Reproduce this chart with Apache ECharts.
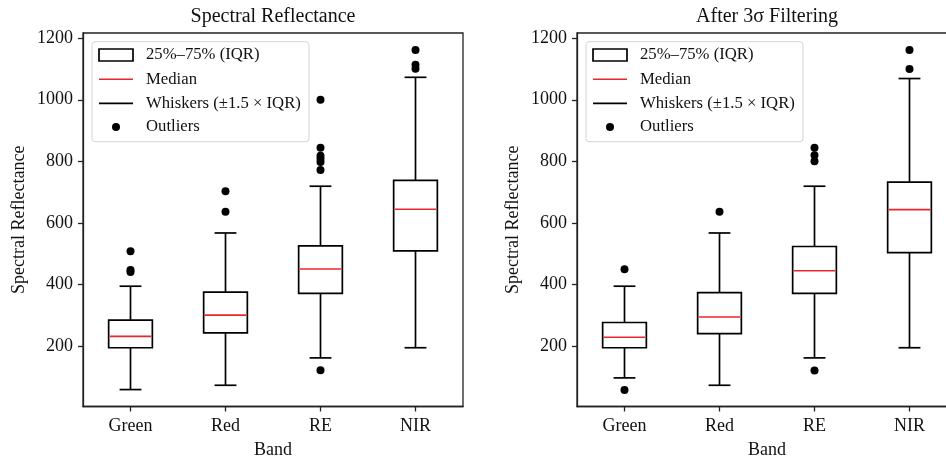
<!DOCTYPE html>
<html>
<head>
<meta charset="utf-8">
<script src="https://cdn.jsdelivr.net/npm/echarts@6/dist/echarts.min.js"></script>
<style>
  html, body { margin: 0; padding: 0; background: #fff; }
  #chart { width: 946px; height: 461px; }
</style>
</head>
<body>
<div id="chart"></div>
<script>
// Band names and y-axis tick values
const bands = ['Green', 'Red', 'RE', 'NIR'];
const yTicks = [200, 400, 600, 800, 1000, 1200];

// Raw reflectance: box statistics per band
const rawWhiskerLow = [58, 72, 161, 194];
const rawQ1 = [194, 242, 371, 509];
const rawMedian = [231, 300, 450, 644];
const rawQ3 = [284, 375, 525, 738];
const rawWhiskerHigh = [394, 567, 719, 1073];
const rawOutliers = [
  [508, 447, 440],
  [703, 636],
  [1000, 844, 818, 808, 798, 772, 121],
  [1162, 1114, 1101]
];

// After 3-sigma filtering: box statistics per band
const filtWhiskerLow = [96, 72, 161, 194];
const filtQ1 = [194, 240, 371, 503];
const filtMedian = [228, 294, 444, 643];
const filtQ3 = [276, 373, 523, 732];
const filtWhiskerHigh = [394, 567, 719, 1069];
const filtOutliers = [
  [449, 57],
  [636],
  [844, 820, 800, 120],
  [1162, 1100]
];

const SERIF = '"Liberation Serif", "DejaVu Serif", serif';
const INK = '#111';
const BOX_FRAC = 0.46;   // box width as a share of the category band
const LINE_W = 1.7;

function boxData(q1, q3) { return bands.map((_, i) => [i, q1[i], q3[i]]); }
function medianData(med) { return bands.map((_, i) => [i, med[i]]); }
function whiskerData(lo, q1, q3, hi) { return bands.map((_, i) => [i, lo[i], q1[i], q3[i], hi[i]]); }
function outlierData(out) {
  const pts = [];
  out.forEach((vals, i) => vals.forEach(v => pts.push([i, v])));
  return pts;
}

function renderBox(params, api) {
  const i = api.value(0);
  const lo = api.coord([i, api.value(1)]);
  const hi = api.coord([i, api.value(2)]);
  const w = api.size([1, 0])[0] * BOX_FRAC;
  return {
    type: 'rect',
    shape: { x: lo[0] - w / 2, y: hi[1], width: w, height: lo[1] - hi[1] },
    style: { fill: '#fff', stroke: '#000', lineWidth: LINE_W }
  };
}

function renderMedian(params, api) {
  const i = api.value(0);
  const p = api.coord([i, api.value(1)]);
  const w = api.size([1, 0])[0] * BOX_FRAC;
  return {
    type: 'line',
    shape: { x1: p[0] - w / 2 + 1, y1: p[1], x2: p[0] + w / 2 - 1, y2: p[1] },
    style: { stroke: '#e8262b', lineWidth: 1.6 }
  };
}

function renderWhisker(params, api) {
  const i = api.value(0);
  const lo = api.coord([i, api.value(1)]);
  const q1 = api.coord([i, api.value(2)]);
  const q3 = api.coord([i, api.value(3)]);
  const hi = api.coord([i, api.value(4)]);
  const cap = api.size([1, 0])[0] * BOX_FRAC / 4;
  const st = { stroke: '#000', lineWidth: LINE_W };
  return {
    type: 'group',
    children: [
      { type: 'line', shape: { x1: lo[0], y1: lo[1], x2: q1[0], y2: q1[1] }, style: st },
      { type: 'line', shape: { x1: q3[0], y1: q3[1], x2: hi[0], y2: hi[1] }, style: st },
      { type: 'line', shape: { x1: lo[0] - cap, y1: lo[1], x2: lo[0] + cap, y2: lo[1] }, style: st },
      { type: 'line', shape: { x1: hi[0] - cap, y1: hi[1], x2: hi[0] + cap, y2: hi[1] }, style: st }
    ]
  };
}

const panels = [
  { title: 'Spectral Reflectance', left: 83,
    lo: rawWhiskerLow, q1: rawQ1, med: rawMedian, q3: rawQ3, hi: rawWhiskerHigh, out: rawOutliers },
  { title: 'After 3σ Filtering', left: 577,
    lo: filtWhiskerLow, q1: filtQ1, med: filtMedian, q3: filtQ3, hi: filtWhiskerHigh, out: filtOutliers }
];

const PLOT_W = 380, PLOT_TOP = 33, PLOT_H = 373.5;
const axisLineStyle = { color: '#222', width: 1.3 };

const grids = [], xAxes = [], yAxes = [], titles = [], series = [], graphics = [];

panels.forEach((p, k) => {
  grids.push({
    left: p.left, top: PLOT_TOP, width: PLOT_W, height: PLOT_H,
    outerBoundsMode: 'none', containLabel: false,
    show: true, borderColor: '#222', borderWidth: 1.3, backgroundColor: '#fff'
  });
  titles.push({
    text: p.title,
    left: p.left + PLOT_W / 2, top: 7, textAlign: 'center', padding: 0,
    textStyle: { fontFamily: SERIF, fontSize: 20, fontWeight: 'normal', color: INK }
  });
  xAxes.push({
    type: 'category', gridIndex: k, data: bands, boundaryGap: true,
    axisLine: { show: true, lineStyle: axisLineStyle },
    axisTick: { show: true, alignWithLabel: true, length: 5, lineStyle: axisLineStyle },
    axisLabel: { margin: 11, fontFamily: SERIF, fontSize: 18, color: INK },
    splitLine: { show: false },
    name: 'Band', nameLocation: 'middle', nameGap: 35,
    nameTextStyle: { fontFamily: SERIF, fontSize: 18, color: INK }
  });
  yAxes.push({
    type: 'value', gridIndex: k, min: 3, max: 1217,
    axisLine: { show: true, lineStyle: axisLineStyle },
    axisTick: { show: true, length: 5, customValues: yTicks, lineStyle: axisLineStyle },
    axisLabel: { customValues: yTicks, formatter: v => String(v), margin: 10,
      fontFamily: SERIF, fontSize: 18, color: INK },
    splitLine: { show: false },
    name: 'Spectral Reflectance', nameLocation: 'middle', nameGap: 55,
    nameTextStyle: { fontFamily: SERIF, fontSize: 18, color: INK }
  });
  const axes = { xAxisIndex: k, yAxisIndex: k };
  series.push(Object.assign({
    name: 'Whiskers (±1.5 × IQR)', type: 'custom', renderItem: renderWhisker,
    encode: { x: 0, y: [1, 2, 3, 4] }, data: whiskerData(p.lo, p.q1, p.q3, p.hi), silent: true
  }, axes));
  series.push(Object.assign({
    name: '25%–75% (IQR)', type: 'custom', renderItem: renderBox,
    encode: { x: 0, y: [1, 2] }, data: boxData(p.q1, p.q3), silent: true
  }, axes));
  series.push(Object.assign({
    name: 'Median', type: 'custom', renderItem: renderMedian,
    encode: { x: 0, y: 1 }, data: medianData(p.med), silent: true
  }, axes));
  series.push(Object.assign({
    name: 'Outliers', type: 'scatter', symbol: 'circle', symbolSize: 8,
    itemStyle: { color: '#000', opacity: 1 }, data: outlierData(p.out), silent: true
  }, axes));

  // Legend box in the upper-left corner of each panel
  const lx = p.left + 9, ly = 41.7;
  const ix = lx + 7, tx = lx + 54;
  const rows = [55, 79.3, 103.3, 127];
  const label = (t, y) => ({
    type: 'text', x: tx, y: y, z: 101,
    style: { text: t, fontFamily: SERIF, fontSize: 16.7, fill: INK, verticalAlign: 'middle', textAlign: 'left' }
  });
  graphics.push(
    { type: 'rect', z: 100, shape: { x: lx, y: ly, width: 217, height: 100, r: 3 },
      style: { fill: 'rgba(255,255,255,0.85)', stroke: '#d4d4d4', lineWidth: 1 } },
    { type: 'rect', z: 101, shape: { x: ix, y: rows[0] - 6, width: 34, height: 12 },
      style: { fill: '#fff', stroke: '#000', lineWidth: LINE_W } },
    { type: 'line', z: 101, shape: { x1: ix, y1: rows[1], x2: ix + 34, y2: rows[1] },
      style: { stroke: '#e8262b', lineWidth: 1.6 } },
    { type: 'line', z: 101, shape: { x1: ix, y1: rows[2], x2: ix + 34, y2: rows[2] },
      style: { stroke: '#000', lineWidth: LINE_W } },
    { type: 'circle', z: 101, shape: { cx: ix + 17, cy: rows[3], r: 4 },
      style: { fill: '#000' } },
    label('25%–75% (IQR)', rows[0]),
    label('Median', rows[1]),
    label('Whiskers (±1.5 × IQR)', rows[2]),
    label('Outliers', rows[3])
  );
});

const chart = echarts.init(document.getElementById('chart'), null, { renderer: 'canvas' });
chart.setOption({
  animation: false,
  backgroundColor: '#fff',
  title: titles,
  grid: grids,
  xAxis: xAxes,
  yAxis: yAxes,
  series: series,
  graphic: { elements: graphics }
});
</script>
</body>
</html>
